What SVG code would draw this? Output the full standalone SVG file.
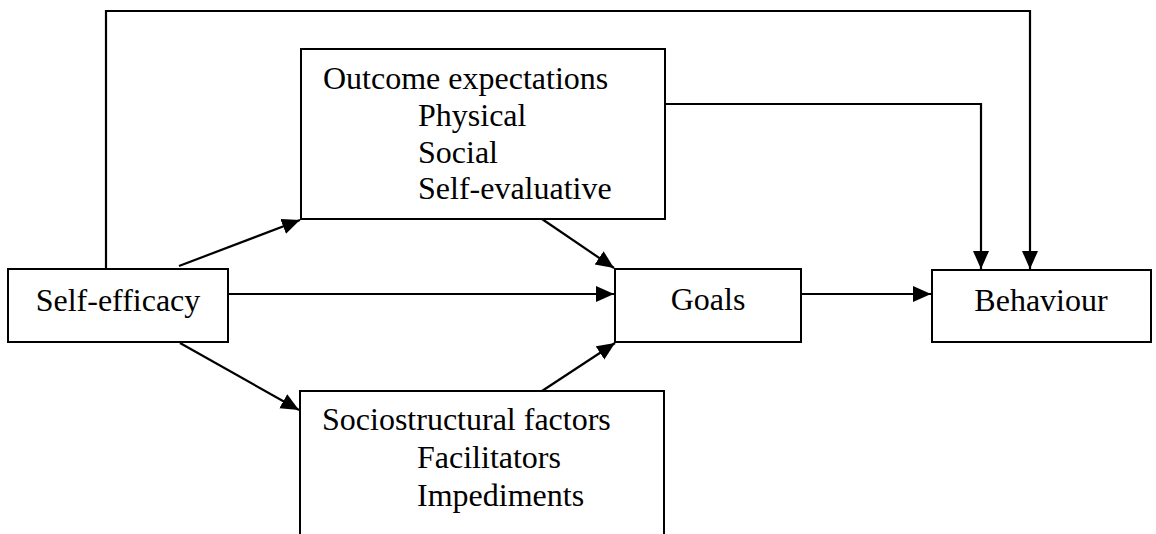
<svg xmlns="http://www.w3.org/2000/svg" width="1156" height="534" viewBox="0 0 1156 534">
  <style>
    .box { fill: #ffffff; stroke: #000000; stroke-width: 2; }
    .lbl { font-family: 'Liberation Serif', 'DejaVu Serif', serif; font-size: 32px; fill: #000000; }
    .mid { text-anchor: middle; }
    .edge { fill: none; stroke: #000000; stroke-width: 2.2; }
  </style>
  <defs>
    <marker id="arr" markerUnits="userSpaceOnUse" markerWidth="20" markerHeight="18" refX="18" refY="8" orient="auto">
      <path d="M0,0 L18,8 L0,16 z" fill="#000000"/>
    </marker>
  </defs>
  <rect width="1156" height="534" fill="#ffffff"/>

  <g id="connectors">
    <polyline class="edge" points="106,269 106,11 1030,11 1030,269" marker-end="url(#arr)"/>
    <polyline class="edge" points="665,104 981,104 981,269" marker-end="url(#arr)"/>
    <line class="edge" x1="179" y1="266" x2="300" y2="220" marker-end="url(#arr)"/>
    <line class="edge" x1="228" y1="294" x2="614" y2="294" marker-end="url(#arr)"/>
    <line class="edge" x1="180" y1="343" x2="299" y2="410" marker-end="url(#arr)"/>
    <line class="edge" x1="542" y1="219" x2="614" y2="268" marker-end="url(#arr)"/>
    <line class="edge" x1="542" y1="391" x2="615" y2="343" marker-end="url(#arr)"/>
    <line class="edge" x1="801" y1="294" x2="931" y2="294" marker-end="url(#arr)"/>
  </g>

  <g id="self-efficacy">
    <rect class="box" x="8" y="269" width="220" height="73"/>
    <text class="lbl mid" x="118" y="311" font-family="Liberation Serif, DejaVu Serif, serif">Self-efficacy</text>
  </g>

  <g id="outcome-expectations">
    <rect class="box" x="301" y="49" width="364" height="170"/>
    <text class="lbl" x="323" y="89">Outcome expectations</text>
    <text class="lbl" x="418" y="126">Physical</text>
    <text class="lbl" x="418" y="163">Social</text>
    <text class="lbl" x="418" y="199">Self-evaluative</text>
  </g>

  <g id="sociostructural-factors">
    <rect class="box" x="300" y="391" width="364" height="160"/>
    <text class="lbl" x="322" y="430">Sociostructural factors</text>
    <text class="lbl" x="417" y="468">Facilitators</text>
    <text class="lbl" x="417" y="506">Impediments</text>
  </g>

  <g id="goals">
    <rect class="box" x="615" y="269" width="186" height="73"/>
    <text class="lbl mid" x="708" y="310">Goals</text>
  </g>

  <g id="behaviour">
    <rect class="box" x="932" y="270" width="219" height="72"/>
    <text class="lbl mid" x="1041" y="311">Behaviour</text>
  </g>
</svg>
